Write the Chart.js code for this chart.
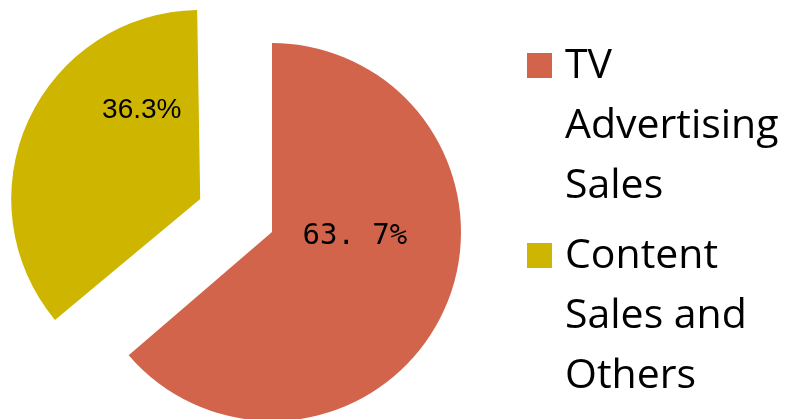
<!DOCTYPE html>
<html>
<head>
<meta charset="utf-8">
<script src="https://cdn.jsdelivr.net/npm/chart.js@4/dist/chart.umd.min.js"></script>
<style>
  html, body { margin: 0; padding: 0; background: #fff; }
  #wrap { position: relative; width: 790px; height: 419px; overflow: hidden; }
  #chart { position: absolute; left: 0; top: 0; }
  #legend {
    position: absolute; left: 527px; top: 32px; width: 255px;
    font-family: "Open Sans", Lato, sans-serif; font-size: 41px; line-height: 60px; color: #000;
  }
  .item { position: relative; padding-left: 38px; margin-bottom: 10px; }
  .box { position: absolute; left: 0; top: 21px; width: 25px; height: 25px; }
</style>
</head>
<body>
<div id="wrap">
  <canvas id="chart" width="790" height="419"></canvas>
  <div id="legend"></div>
</div>
<script>
// data
const categories = ["TV Advertising Sales", "Content Sales and Others"];
const shares = [63.7, 36.3];
const shareLabels = ["63. 7%", "36.3%"];

// styles
const sliceColors = ["#D2644B", "#CDB500"];
const sliceOffsets = [0, 316];
const labelFonts = ["29px 'DejaVu Sans Mono', monospace", "28px 'Liberation Sans', Arial, sans-serif"];
// label position relative to pie centre: [angle in deg, distance in px]
const labelPlace = [[3, 83], [-137, 178]];

/**************************************
 *  KEEP EXPLODED SLICES AT SAME RADIUS
 **************************************/
// chart.js grows an offset arc a little; take that back off
const keepRadius = {
  id: "keepRadius",
  afterDatasetUpdate(chart, args) {
    chart.getDatasetMeta(args.index).data.forEach((arc) => {
      const off = (arc.options.offset || 0) / 4;
      const fix = 1 - Math.sin(Math.min(Math.PI, arc.circumference));
      arc.outerRadius -= off * fix;
    });
  }
};

/**************************************
 *     LABELS DRAWN ON THE SLICES
 **************************************/
const sliceLabels = {
  id: "sliceLabels",
  afterDatasetsDraw(chart) {
    const ctx = chart.ctx;
    const arcs = chart.getDatasetMeta(0).data;
    ctx.save();
    ctx.fillStyle = "#000";
    ctx.textAlign = "center";
    ctx.textBaseline = "middle";
    arcs.forEach((arc, i) => {
      const a = labelPlace[i][0] * Math.PI / 180;
      const d = labelPlace[i][1];
      ctx.font = labelFonts[i];
      ctx.fillText(shareLabels[i], arc.x + d * Math.cos(a), arc.y + d * Math.sin(a));
    });
    ctx.restore();
  }
};

new Chart(document.getElementById("chart"), {
  type: "pie",
  data: {
    labels: categories,
    datasets: [{
      data: shares,
      backgroundColor: sliceColors,
      borderWidth: 0,
      offset: sliceOffsets,
      radius: 189,
      clip: false
    }]
  },
  options: {
    responsive: false,
    animation: false,
    layout: { padding: { left: 0, right: 246, top: 45, bottom: 0 } },
    plugins: { legend: { display: false }, tooltip: { enabled: false } }
  },
  plugins: [keepRadius, sliceLabels]
});

/**************************************
 *             LEGEND
 **************************************/
const legend = document.getElementById("legend");
categories.forEach((name, i) => {
  const item = document.createElement("div");
  item.className = "item";
  item.innerHTML = `<span class="box" style="background:${sliceColors[i]}"></span>${name}`;
  legend.appendChild(item);
});
</script>
</body>
</html>
